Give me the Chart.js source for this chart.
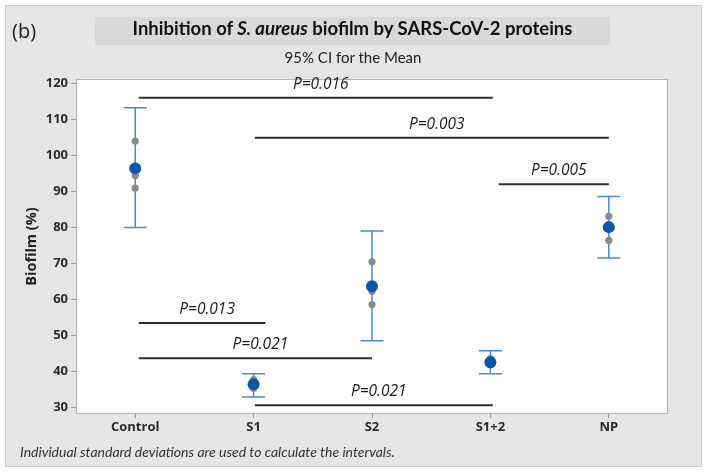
<!DOCTYPE html>
<html><head><meta charset="utf-8">
<script src="https://cdn.jsdelivr.net/npm/chart.js@4"></script>
<style>
html,body{margin:0;padding:0;background:#fff;}
#wrap{position:relative;width:708px;height:476px;overflow:hidden;background:#fff;}
#panel{position:absolute;left:5px;top:5px;width:697px;height:462px;background:#e6e6e6;border:1px solid #d2d2d2;box-sizing:border-box;}
#titlebox{position:absolute;left:95px;top:17px;width:515px;height:28px;background:#d9d9d9;}
canvas{position:absolute;left:0;top:0;}
.t{position:absolute;white-space:nowrap;color:#1a1a1a;}
</style></head>
<body>
<div id="wrap">
  <div id="panel"></div>
  <div id="titlebox"></div>
  <canvas id="c" width="708" height="476"></canvas>
  <div class="t" style="left:12px;top:18px;font:20px 'Open Sans',sans-serif;line-height:26px;">(b)</div>
  <div class="t" style="left:95px;top:17px;width:515px;height:28px;line-height:28px;text-align:center;font:700 18.5px Lato,sans-serif;color:#111;">Inhibition of <i>S. aureus</i> biofilm by SARS-CoV-2 proteins</div>
  <div class="t" style="left:0;top:47px;width:706px;text-align:center;font:15px Lato,sans-serif;line-height:20px;color:#222;">95% CI for the Mean</div>
  <div class="t" style="left:20px;top:442px;font:italic 14px Lato,sans-serif;line-height:20px;color:#333;">Individual standard deviations are used to calculate the intervals.</div>
</div>
<script>
const categories = ['Control', 'S1', 'S2', 'S1+2', 'NP'];
const means  = [96.4, 36.5, 63.7, 42.6, 80.1];
const ciLow  = [80.0, 33.0, 48.6, 39.4, 71.5];
const ciHigh = [113.2, 39.4, 79.0, 45.8, 88.6];
const obsControl = [104.0, 94.4, 90.9];
const obsS1      = [37.8, 36.4, 35.3];
const obsS2      = [70.5, 62.3, 58.6];
const obsS12     = [43.6, 42.1, 41.9];
const obsNP      = [83.1, 80.8, 76.4];
const yTicks = [30, 40, 50, 60, 70, 80, 90, 100, 110, 120];
const sigLabels = ['P=0.016', 'P=0.003', 'P=0.005', 'P=0.013', 'P=0.021', 'P=0.021'];
const sigLevels = [116.0, 104.9, 92.0, 53.5, 43.7, 30.7];
const sigFrom   = [0.03, 1.01, 3.07, 0.03, 0.03, 1.01];
const sigTo     = [3.02, 4.0, 4.0, 1.1, 2.0, 3.02];

const obsAll = [obsControl, obsS1, obsS2, obsS12, obsNP];
const obsPoints = [];
obsAll.forEach((arr, i) => arr.forEach(v => obsPoints.push({x: i, y: v})));
const meanPoints = means.map((v, i) => ({x: i, y: v}));

const tickFont = {family: "'Open Sans', sans-serif", size: 13, weight: '700'};

const bgPlugin = {
  id: 'bg',
  beforeDraw(chart) {
    const {ctx, chartArea: a} = chart;
    ctx.save();
    ctx.fillStyle = '#ffffff';
    ctx.fillRect(a.left, a.top, a.right - a.left, a.bottom - a.top);
    ctx.restore();
  },
  beforeDatasetsDraw(chart) {
    const {ctx, chartArea: a, scales: {x, y}} = chart;
    ctx.save();
    ctx.strokeStyle = '#b4b4b4';
    ctx.lineWidth = 1;
    ctx.strokeRect(a.left + 0.5, a.top + 0.5, a.right - a.left - 1, a.bottom - a.top - 1);
    ctx.strokeStyle = '#4a88d2';
    ctx.lineWidth = 1.5;
    for (let i = 0; i < categories.length; i++) {
      const px = x.getPixelForValue(i);
      const yl = y.getPixelForValue(ciLow[i]);
      const yh = y.getPixelForValue(ciHigh[i]);
      ctx.beginPath();
      ctx.moveTo(px, yl); ctx.lineTo(px, yh);
      ctx.moveTo(px - 11.5, yl); ctx.lineTo(px + 11.5, yl);
      ctx.moveTo(px - 11.5, yh); ctx.lineTo(px + 11.5, yh);
      ctx.stroke();
    }
    ctx.restore();
  },
  afterDatasetsDraw(chart) {
    const {ctx, scales: {x, y}} = chart;
    ctx.save();
    ctx.fillStyle = '#1a1a1a';
    ctx.font = "italic 15.5px 'Open Sans', sans-serif";
    ctx.textAlign = 'center';
    ctx.textBaseline = 'middle';
    for (let i = 0; i < sigLabels.length; i++) {
      const cx = (x.getPixelForValue(sigFrom[i]) + x.getPixelForValue(sigTo[i])) / 2 + 5;
      const cy = y.getPixelForValue(sigLevels[i]) - 13.5;
      ctx.fillText(sigLabels[i], cx, cy);
    }
    ctx.restore();
  }
};

const sigDatasets = sigLabels.map((lab, i) => ({
  type: 'line',
  label: lab,
  data: [{x: sigFrom[i], y: sigLevels[i]}, {x: sigTo[i], y: sigLevels[i]}],
  borderColor: '#2e2e2e',
  borderWidth: 2,
  pointRadius: 0,
  fill: false,
  order: 3
}));

new Chart(document.getElementById('c'), {
  type: 'scatter',
  data: {
    datasets: [
      {label: 'Mean', data: meanPoints, backgroundColor: '#0b56a8', borderColor: '#0b56a8', pointRadius: 6, borderWidth: 0, order: 0},
      {label: 'Observations', data: obsPoints, backgroundColor: '#8a8a8a', borderColor: '#8a8a8a', pointRadius: 3.6, borderWidth: 0, order: 1},
      ...sigDatasets
    ]
  },
  options: {
    responsive: false,
    animation: false,
    devicePixelRatio: 1,
    layout: {padding: {left: 0, top: 79, right: 40, bottom: 0}},
    plugins: {legend: {display: false}, tooltip: {enabled: false}, title: {display: false}},
    scales: {
      x: {
        type: 'linear', min: -0.5, max: 4.5,
        afterBuildTicks: s => { s.ticks = categories.map((c, i) => ({value: i})); },
        afterFit: s => { s.height = 62; },
        ticks: {callback: v => categories[v], font: tickFont, color: '#2a2a2a', padding: 1, maxRotation: 0, autoSkip: false},
        grid: {drawOnChartArea: false, tickLength: 4, color: '#9a9a9a'},
        border: {display: false}
      },
      y: {
        type: 'linear', min: 28.25, max: 121.2,
        afterBuildTicks: s => { s.ticks = yTicks.map(v => ({value: v})); },
        afterFit: s => { s.width = 76; },
        ticks: {font: tickFont, color: '#2a2a2a', padding: 3},
        grid: {drawOnChartArea: false, tickLength: 5, color: '#9a9a9a'},
        border: {display: false},
        title: {display: true, text: 'Biofilm (%)', font: {family: "'Open Sans', sans-serif", size: 14.5, weight: '700'}, color: '#222', padding: {top: 23, bottom: 0}}
      }
    }
  },
  plugins: [bgPlugin]
});
</script>
</body></html>
